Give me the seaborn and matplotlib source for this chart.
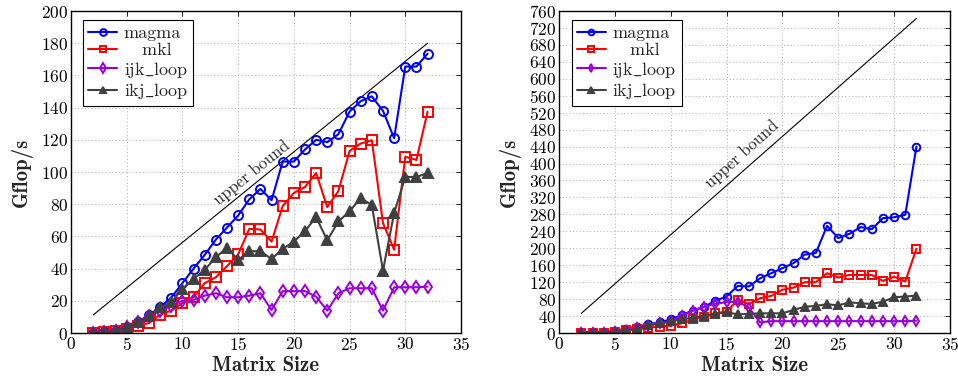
import numpy as np
import pandas as pd
import matplotlib
matplotlib.use("Agg")
import matplotlib.pyplot as plt
import seaborn as sns

# ---------------- data ----------------
sizes = list(range(2, 33))
series_names = ["magma", "mkl", "ijk_loop", "ikj_loop"]

left_magma = [0, 0.5, 1, 4, 7, 11, 16, 22, 31, 40, 48.5, 58, 65.5, 73, 83, 89.5, 82.5,
              106.5, 106.5, 114, 120, 118.5, 123.5, 137.5, 144, 147, 138, 121, 165.5, 165.5, 173.5]
left_mkl = [0, 0.4, 1, 2.5, 4.6, 6.2, 11.4, 13.9, 18.7, 22.2, 31, 34.6, 41.5, 48.8, 64.7, 64.3, 56.8,
            78.8, 87, 90.7, 99.4, 78.2, 88.2, 113, 117.7, 119.7, 68.3, 51.7, 109.5, 107.5, 137.4]
left_ijk = [0, 0.4, 1, 4, 6.6, 10.4, 13.9, 17, 20, 20.5, 23.2, 24.7, 22.2, 22.2, 23.2, 24.7, 14.3,
            26, 26, 26, 22.6, 13.9, 24.7, 27.8, 27.8, 27.8, 13.9, 28.4, 28.4, 28.4, 28.8]
left_ikj = [0, 0.4, 1.5, 4, 7, 10.8, 16, 19, 27.4, 33.6, 39.2, 47, 53, 45.4, 50.8, 50.8, 46,
            52.3, 56.8, 63.3, 72, 57.5, 69.3, 75.5, 84, 79.3, 38.8, 74.5, 96.9, 96.9, 99.4]

right_magma = [1.6, 2, 3, 5, 9.5, 15, 20.5, 25, 32, 42.6, 53, 62, 76, 86, 111, 110, 129,
               141, 153, 165, 185, 189, 253, 224, 234, 250, 245, 271, 273, 279, 440]
right_mkl = [0, 0.5, 1, 2, 7, 9.5, 12.6, 15, 17.4, 23, 32, 38.7, 46.5, 50.5, 78, 68, 82,
             87.6, 102, 107, 120, 120, 141, 131, 137, 137, 137, 123, 133, 121.5, 199]
right_ijk = [0, 0, 1, 2, 5, 11, 17, 23, 28, 41, 53, 62, 69, 73, 74, 60, 25,
             28, 28, 28, 28, 28, 28, 28, 28, 28, 28, 28, 28, 28, 29]
right_ikj = [0, 0.5, 1, 2.5, 5, 9.5, 19, 23, 28, 32, 36, 41, 45, 49, 44, 45, 46.5,
             46.5, 46.5, 54.5, 62, 64, 68, 65, 72.6, 70, 68.6, 74, 84.4, 86, 88.4]

bound_x = [2, 32]
left_bound_y = [11.25, 180]
right_bound_y = [46.4, 742.4]
bound_label = "upper bound"

x_label = "Matrix Size"
y_label = "Gflop/s"
x_ticks = [0, 5, 10, 15, 20, 25, 30, 35]
left_y_ticks = list(range(0, 201, 20))
right_y_ticks = list(range(0, 761, 40))

# ---------------- style ----------------
sns.set_style("white")
plt.rcParams["font.family"] = ["cmr10", "DejaVu Serif"]
plt.rcParams["mathtext.fontset"] = "cm"
plt.rcParams["axes.formatter.use_mathtext"] = True
plt.rcParams["axes.unicode_minus"] = False

colors = ["#0000ff", "#ff0000", "#9900dd", "#404040"]
markers = ["o", "s", "d", "^"]
# leading spaces emulate the centred legend cells of the original
legend_pad = {"mkl": "   "}

fig = plt.figure(figsize=(9.58, 3.77), dpi=100)
ax1 = fig.add_axes([0.0741, 0.1167, 0.4071, 0.8541])
ax2 = fig.add_axes([0.5835, 0.1167, 0.4081, 0.8541])


def draw(ax, data, bound_y, yticks, ms, txt_xy, txt_rot, leg_anchor, ylpad):
    ax.set_axisbelow(True)
    ax.grid(True, linestyle=(0, (1, 2.5)), color="#aaaaaa", linewidth=0.7)
    sns.lineplot(x=bound_x, y=bound_y, ax=ax, color="black", linewidth=0.8)
    for name, vals, c, m in zip(series_names, data, colors, markers):
        filled = (m == "^")
        sns.lineplot(x=sizes, y=vals, ax=ax, color=c, linewidth=1.5,
                     marker=m, markersize=ms,
                     markerfacecolor=c if filled else "none",
                     markeredgecolor=c, markeredgewidth=1.4,
                     label=legend_pad.get(name, "") + name.replace("_", r"$\_$"))
    ax.text(txt_xy[0], txt_xy[1], bound_label, rotation=txt_rot, ha="center", va="center",
            fontsize=12, rotation_mode="anchor")
    ax.set_xlim(0, 35)
    ax.set_ylim(yticks[0], yticks[-1])
    ax.set_xticks(x_ticks)
    ax.set_yticks(yticks)
    ax.tick_params(direction="in", top=True, right=True, length=3.5, width=0.6,
                   labelsize=12.5, colors="black", pad=2)
    for s in ax.spines.values():
        s.set_color("black")
        s.set_linewidth(1.0)
    ax.set_xlabel(x_label, fontfamily="cmb10", fontsize=15, labelpad=2)
    ax.set_ylabel(y_label, fontfamily="cmb10", fontsize=15, labelpad=ylpad)
    leg = ax.legend(loc="upper left", bbox_to_anchor=leg_anchor, borderaxespad=0,
                    fancybox=False, edgecolor="black", framealpha=1, fontsize=13,
                    handlelength=1.6, handletextpad=0.35, labelspacing=0.08,
                    borderpad=0.3, markerscale=0.75)
    leg.get_frame().set_linewidth(0.8)


draw(ax1, [left_magma, left_mkl, left_ijk, left_ikj], left_bound_y, left_y_ticks,
     6.5, (16.2, 99.7), 39, (0.031, 0.972), 6)
draw(ax2, [right_magma, right_mkl, right_ijk, right_ikj], right_bound_y, right_y_ticks,
     5.5, (16.4, 421), 42, (0.032, 0.972), 6)

fig.savefig("out.png", dpi=100)
